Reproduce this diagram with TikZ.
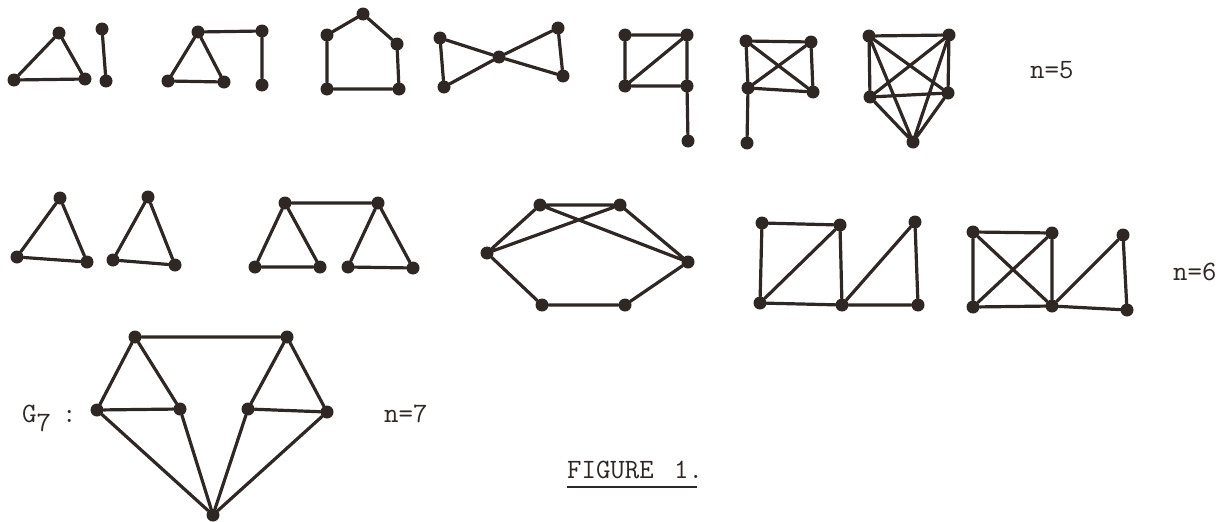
\documentclass[tikz,border=0pt]{standalone}
\usepackage{fontspec}
\definecolor{ink}{HTML}{2E2724}
\tikzset{
  v/.style={circle, fill=ink, draw=none, inner sep=0pt, minimum size=13pt},
  e/.style={draw=ink, line width=3.2pt, line cap=round},
  lbl/.style={font=\fontsize{28}{28}\selectfont\ttfamily, text=ink, inner sep=0pt}
}
\begin{document}
\begin{tikzpicture}[x=1pt,y=-1pt]
\useasboundingbox (0,0) rectangle (1221,522);
% ---------- row 1, n=5 ----------
% graph 1
\node[v] (a1) at (59,33) {};
\node[v] (a2) at (14,80) {};
\node[v] (a3) at (85,79) {};
\node[v] (a4) at (102,29) {};
\node[v] (a5) at (106,81) {};
\draw[e] (a1)--(a2)--(a3)--(a1) (a4)--(a5);
% graph 2
\node[v] (b1) at (198,32) {};
\node[v] (b2) at (262,31) {};
\node[v] (b3) at (168,81) {};
\node[v] (b4) at (224,82) {};
\node[v] (b5) at (262,85) {};
\draw[e] (b2)--(b1)--(b3)--(b4)--(b1) (b2)--(b5);
% graph 3 pentagon
\node[v] (c1) at (363,14) {};
\node[v] (c2) at (327,35) {};
\node[v] (c3) at (397,44) {};
\node[v] (c4) at (327,89) {};
\node[v] (c5) at (399,89) {};
\draw[e] (c1)--(c2)--(c4)--(c5)--(c3)--(c1);
% graph 4 bowtie
\node[v] (d1) at (440,38) {};
\node[v] (d2) at (444,87) {};
\node[v] (d3) at (499,57) {};
\node[v] (d4) at (558,28) {};
\node[v] (d5) at (563,76) {};
\draw[e] (d1)--(d2)--(d3)--(d1) (d3)--(d4)--(d5)--(d3);
% graph 5
\node[v] (f1) at (625,35) {};
\node[v] (f2) at (687,35) {};
\node[v] (f3) at (625,86) {};
\node[v] (f4) at (687,86) {};
\node[v] (f5) at (688,141) {};
\draw[e] (f1)--(f2)--(f4)--(f3)--(f1) (f3)--(f2) (f4)--(f5);
% graph 6
\node[v] (g1) at (746,41) {};
\node[v] (g2) at (811,42) {};
\node[v] (g3) at (748,88) {};
\node[v] (g4) at (813,92) {};
\node[v] (g5) at (747,143) {};
\draw[e] (g1)--(g2)--(g4)--(g3)--(g1) (g1)--(g4) (g2)--(g3) (g3)--(g5);
% graph 7 K5
\node[v] (h1) at (869,36) {};
\node[v] (h2) at (949,35) {};
\node[v] (h3) at (870,97) {};
\node[v] (h4) at (948,93) {};
\node[v] (h5) at (913,142) {};
\draw[e] (h1)--(h2) (h1)--(h3) (h1)--(h4) (h1)--(h5)
         (h2)--(h3) (h2)--(h4) (h2)--(h5)
         (h3)--(h4) (h3)--(h5) (h4)--(h5);
\node[lbl, anchor=base west] (n5) at (1030,78) {n=5};
% ---------- row 2, n=6 ----------
% two triangles
\node[v] (i1) at (60,198) {};
\node[v] (i2) at (17,257) {};
\node[v] (i3) at (87,262) {};
\draw[e] (i1)--(i2)--(i3)--(i1);
\node[v] (j1) at (148,197) {};
\node[v] (j2) at (113,260) {};
\node[v] (j3) at (175,265) {};
\draw[e] (j1)--(j2)--(j3)--(j1);
% joined triangles
\node[v] (k1) at (285,203) {};
\node[v] (k2) at (378,203) {};
\node[v] (k3) at (255,267) {};
\node[v] (k4) at (320,267) {};
\node[v] (k5) at (348,267) {};
\node[v] (k6) at (413,268) {};
\draw[e] (k1)--(k2) (k1)--(k3)--(k4)--(k1) (k2)--(k5)--(k6)--(k2);
% hexagon-like
\node[v] (m1) at (540,205) {};
\node[v] (m2) at (620,205) {};
\node[v] (m3) at (487,253) {};
\node[v] (m4) at (688,262) {};
\node[v] (m5) at (542,305) {};
\node[v] (m6) at (625,305) {};
\draw[e] (m1)--(m2) (m1)--(m3) (m1)--(m4) (m2)--(m3) (m2)--(m4)
         (m3)--(m5)--(m6)--(m4);
% graph A
\node[v] (p1) at (762,223) {};
\node[v] (p2) at (840,225) {};
\node[v] (p3) at (915,222) {};
\node[v] (p4) at (760,303) {};
\node[v] (p5) at (842,305) {};
\node[v] (p6) at (918,305) {};
\draw[e] (p1)--(p2)--(p5)--(p4)--(p1) (p4)--(p2) (p5)--(p6)--(p3)--(p5);
% graph B
\node[v] (q1) at (973,232) {};
\node[v] (q2) at (1052,233) {};
\node[v] (q3) at (1123,235) {};
\node[v] (q4) at (973,307) {};
\node[v] (q5) at (1052,306) {};
\node[v] (q6) at (1127,310) {};
\draw[e] (q1)--(q2)--(q5)--(q4)--(q1) (q1)--(q5) (q2)--(q4) (q5)--(q6)--(q3)--(q5);
\node[lbl, anchor=base west] (n6) at (1173,280) {n=6};
% ---------- row 3, G7 ----------
\node[v] (r1) at (135,337) {};
\node[v] (r2) at (287,337) {};
\node[v] (r3) at (97,410) {};
\node[v] (r4) at (180,409) {};
\node[v] (r5) at (248,409) {};
\node[v] (r6) at (327,412) {};
\node[v] (r7) at (213,515) {};
\draw[e] (r1)--(r2) (r1)--(r3)--(r4)--(r1) (r2)--(r5)--(r6)--(r2)
         (r3)--(r7) (r4)--(r7) (r5)--(r7) (r6)--(r7);
\node[lbl, anchor=base west] (g7) at (22,422) {G\raisebox{-9pt}{7}\hspace{11pt}:};
\node[lbl, anchor=base west] (n7) at (384,422) {n=7};
\node[lbl, anchor=base west] (fig) at (567,478) {FIGURE\hspace{6pt} 1.};
\draw[draw=ink, line width=1.5pt] ([yshift=-9pt]fig.base west) -- ++(130,0) coordinate (ul);
\end{tikzpicture}
\end{document}
